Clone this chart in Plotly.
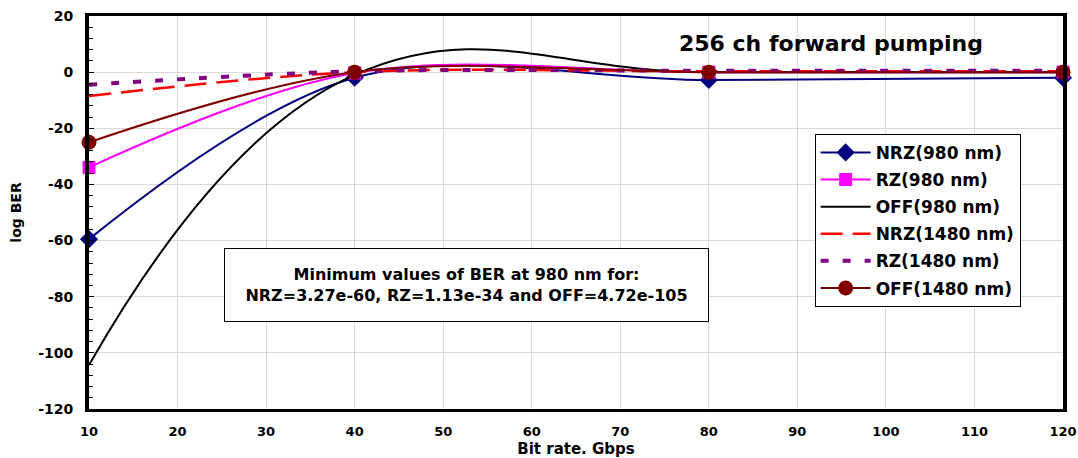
import plotly.graph_objects as go

bit_rate = [10, 40, 80, 120]
nrz_980 = [-59.49, -2.0, -2.8, -2.0]
rz_980 = [-33.95, -0.3, 0.0, 0.0]
off_980 = [-104.33, -1.0, 0.0, 0.0]
nrz_1480 = [-8.5, 0.0, 0.3, 0.3]
rz_1480 = [-4.5, 0.3, 0.5, 0.5]
off_1480 = [-25.0, 0.0, 0.0, 0.0]

x_ticks = list(range(10, 121, 10))
y_ticks = list(range(-120, 21, 20))

FONT = "DejaVu Sans"

fig = go.Figure()

def add(name, y, color, width, dash="solid", marker=None, smoothing=1.0):
    kw = dict(x=bit_rate, y=y, name=name,
              line=dict(color=color, width=width, dash=dash, shape="spline", smoothing=smoothing),
              cliponaxis=False, legendgroup=name)
    if marker:
        kw["mode"] = "lines+markers"
        kw["marker"] = marker
    else:
        kw["mode"] = "lines"
    fig.add_trace(go.Scatter(**kw))

add("NRZ(980 nm)", nrz_980, "#000080", 2, marker=dict(symbol="diamond", size=14, color="#000080"))
add("RZ(980 nm)", rz_980, "#FF00FF", 2, marker=dict(symbol="square", size=13, color="#FF00FF"))
add("OFF(980 nm)", off_980, "#000000", 2, smoothing=1.25)
add("NRZ(1480 nm)", nrz_1480, "#FF0000", 2.5, dash="22px,10px")
add("RZ(1480 nm)", rz_1480, "#800080", 4, dash="8px,14px")
add("OFF(1480 nm)", off_1480, "#800000", 2, marker=dict(symbol="circle", size=15, color="#800000"))

fig.update_layout(
    width=1078, height=458,
    margin=dict(l=89, r=15, t=16, b=49),
    paper_bgcolor="white", plot_bgcolor="white",
    font=dict(family=FONT, color="black"),
    showlegend=True,
    legend=dict(x=0.745, y=0.70, xanchor="left", yanchor="top",
                bgcolor="white", bordercolor="black", borderwidth=1,
                font=dict(family=FONT, size=17, color="black", weight="bold"),
                traceorder="grouped", tracegroupgap=2, itemwidth=50),
    xaxis=dict(range=[10, 120], tickvals=x_ticks, ticktext=[str(v) for v in x_ticks],
               showgrid=True, gridcolor="#d9d9d9", gridwidth=1,
               showline=True, linecolor="black", linewidth=3, mirror=True,
               ticks="", zeroline=False, ticklabelstandoff=8, automargin=False,
               tickfont=dict(family=FONT, size=13, weight="bold"),
               title=dict(text="Bit rate. Gbps", font=dict(family=FONT, size=15, weight="bold"), standoff=6)),
    yaxis=dict(range=[-120, 20], tickvals=y_ticks, ticktext=[str(v) for v in y_ticks],
               showgrid=True, gridcolor="#d9d9d9", gridwidth=1,
               showline=True, linecolor="black", linewidth=4, mirror=True,
               ticks="inside", ticklen=5, tickcolor="black", zeroline=False,
               ticklabelstandoff=9, automargin=False,
               minor=dict(dtick=4, ticks="inside", ticklen=4, tickcolor="black", showgrid=False),
               tickfont=dict(family=FONT, size=14, weight="bold"),
               title=dict(text="log BER", font=dict(family=FONT, size=14, weight="bold"), standoff=14)),
)

fig.add_annotation(x=0.7618, y=0.931, xref="paper", yref="paper", showarrow=False,
                   xanchor="center", yanchor="middle",
                   text="256 ch forward pumping", font=dict(family=FONT, size=22, weight="bold"))
fig.add_annotation(x=0.3876, y=0.3155, xref="paper", yref="paper", showarrow=False,
                   xanchor="center", yanchor="middle",
                   text="Minimum values of BER at 980 nm for:<br>NRZ=3.27e-60, RZ=1.13e-34 and OFF=4.72e-105",
                   font=dict(family=FONT, size=16, weight="bold"),
                   bordercolor="black", borderwidth=1, borderpad=1, bgcolor="white",
                   width=481, height=70, align="center")

fig.write_html("out.html")
